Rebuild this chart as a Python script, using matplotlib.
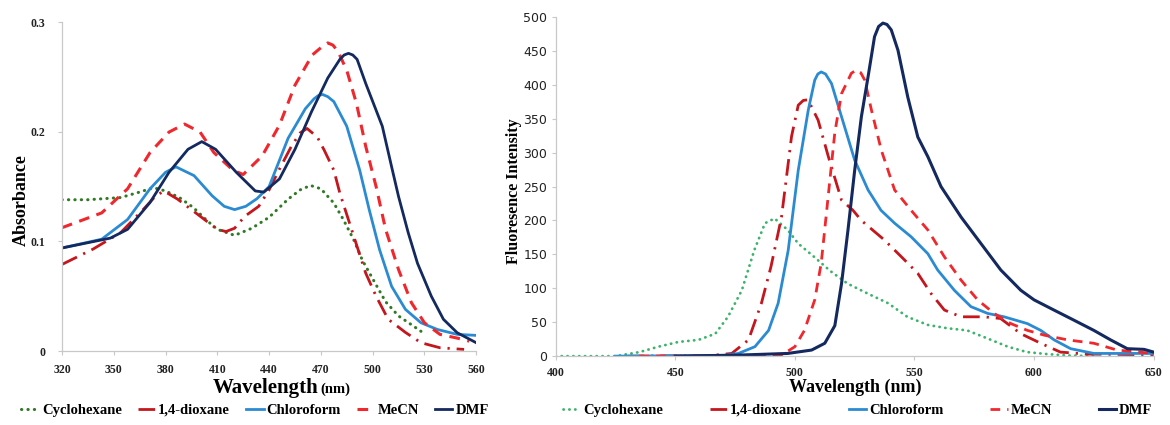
"""
Absorption (left) and fluorescence (right) spectra in five solvents.
"""

import numpy as np
import matplotlib
matplotlib.use('Agg')
import matplotlib.pyplot as plt
from matplotlib.lines import Line2D

# ============================================================
#  DATA - absorption spectra (left panel)
# ============================================================
abs_cyc_wl = [320, 335, 354, 365, 373, 380, 388, 396, 404, 410, 420, 430, 440, 451, 458,
              464, 470, 477.5, 483, 489, 494, 500, 507.5, 515, 522.5, 528]
abs_cyc = [0.138, 0.138, 0.140, 0.145, 0.149, 0.146, 0.140, 0.131, 0.119, 0.111, 0.1055,
           0.112, 0.122, 0.1385, 0.147, 0.151, 0.148, 0.135, 0.120, 0.1016, 0.083, 0.066,
           0.045, 0.032, 0.024, 0.018]

abs_diox_wl = [320, 338, 354, 367, 374, 379, 387, 400, 410, 415, 420, 426, 434, 440, 446,
               453, 458, 462, 468, 472, 477.5, 481, 489, 496, 502, 509, 519, 528, 539, 553]
abs_diox = [0.079, 0.093, 0.108, 0.129, 0.141, 0.146, 0.1385, 0.123, 0.111, 0.109, 0.112,
            0.123, 0.132, 0.147, 0.166, 0.187, 0.199, 0.203, 0.195, 0.183, 0.165, 0.144,
            0.105, 0.071, 0.050, 0.029, 0.017, 0.0076, 0.003, 0.0015]

abs_chl_wl = [320, 343, 358, 371, 380, 386, 396.5, 407, 414, 420, 426.5, 433, 440, 451,
              461, 466, 468.5, 471, 474, 477.5, 485, 492.5, 498, 504, 511, 519, 528, 537.5,
              549, 560]
abs_chl = [0.094, 0.102, 0.120, 0.148, 0.163, 0.168, 0.160, 0.1416, 0.132, 0.129, 0.132,
           0.139, 0.150, 0.194, 0.221, 0.230, 0.233, 0.234, 0.232, 0.2275, 0.205, 0.165,
           0.129, 0.0925, 0.059, 0.038, 0.0258, 0.0197, 0.0152, 0.0143]

abs_mecn_wl = [320, 343, 358, 371, 382, 391, 400, 408, 419, 425, 436, 446, 455, 465, 471,
               474, 477, 480, 485, 490.6, 496, 502, 507.5, 515, 522.5, 530, 539, 552.5, 556]
abs_mecn = [0.1125, 0.126, 0.148, 0.181, 0.1997, 0.207, 0.1997, 0.181, 0.165, 0.161, 0.178,
            0.206, 0.2425, 0.270, 0.278, 0.281, 0.279, 0.273, 0.256, 0.226, 0.1866, 0.150,
            0.111, 0.0743, 0.044, 0.0258, 0.0152, 0.0106, 0.009]

abs_dmf_wl = [320, 348, 358, 371, 382, 393, 401, 409, 421, 432, 437, 446, 455, 464.5, 474,
              481, 483.5, 486, 488.5, 491, 496, 505.6, 511, 515, 520.6, 526, 534, 541, 549,
              560]
abs_dmf = [0.094, 0.103, 0.111, 0.1355, 0.163, 0.184, 0.191, 0.184, 0.163, 0.146, 0.145,
           0.157, 0.184, 0.218, 0.249, 0.266, 0.270, 0.2715, 0.270, 0.266, 0.244, 0.205,
           0.168, 0.141, 0.108, 0.080, 0.050, 0.029, 0.0167, 0.0076]

# ============================================================
#  DATA - fluorescence spectra (right panel)
# ============================================================
fl_cyc_wl = [400, 425, 435, 443, 451.4, 459.7, 466.7, 472, 477.8, 483, 487.5, 491.5, 497,
             501.4, 508, 515, 522, 530.6, 539, 547, 555.6, 564, 572, 580.6, 589, 597, 605.6,
             614, 625]
fl_cyc = [0, 0, 6, 14, 21, 24, 33, 58, 97, 156, 196, 203, 186, 166, 146.5, 125, 107, 92, 78,
          58, 46, 41, 38, 26, 14, 6, 3, 1, 0]

fl_diox_wl = [430, 465, 473.6, 480.6, 486, 490, 494.4, 498.6, 501.4, 503.5, 505.5, 509.7,
              514, 519.5, 524.3, 527.8, 537.5, 545.8, 551.4, 557, 562.5, 569.5, 579, 586,
              594.5, 602.8, 611, 622, 650]
fl_diox = [0, 1, 4, 24, 78, 132, 205, 324, 370, 377, 378, 348, 294, 230, 215, 200, 171, 142,
           122, 92, 68, 58, 58, 55.5, 33, 19, 6, 3, 2]

fl_chl_wl = [425, 470, 476.4, 483.3, 489, 493, 497.2, 501.4, 505.6, 508.3, 509.6, 511, 512.8,
             515.3, 519.5, 525, 530.6, 536, 541.7, 548.6, 555.6, 559.7, 566.7, 573.6, 580.6,
             587.5, 597.2, 602.8, 608.4, 615.3, 625, 650]
fl_chl = [0, 1, 4, 14, 38, 78, 156, 274, 363, 407, 416, 419, 416, 402, 353, 289, 245, 215,
          196, 176, 151, 127, 97, 73, 63, 58, 48, 38, 24, 11, 4, 4]

fl_mecn_wl = [435, 490, 494.4, 500, 504, 508.3, 511, 513.9, 516.7, 519.5, 523.6, 525.7,
              527.5, 529.2, 532, 536.1, 541.7, 548.6, 555.6, 562.5, 569.5, 576.4, 583.3,
              590.3, 597.2, 604.2, 614, 625, 634.7, 650]
fl_mecn = [0, 0.5, 1.5, 14, 38, 83, 137, 235, 330, 387, 417, 422, 418, 407, 363, 304, 245,
           215, 186, 146.5, 112, 83, 63, 48, 38, 31, 24, 19, 9, 4]

fl_dmf_wl = [450, 476, 497, 507, 512.5, 516.7, 519.5, 522.2, 525, 527.8, 530.6, 533.3, 535,
             536.8, 538.5, 540.3, 543.1, 547.2, 551.4, 555.6, 561.1, 569.5, 577.8, 586.1,
             594.5, 600, 608.3, 616.7, 625, 632, 639, 646, 650]
fl_dmf = [0, 1.5, 4, 9, 19, 45, 107, 186, 274, 353, 412, 471, 486, 491, 489, 481, 451, 382,
          323, 294, 250, 205, 166, 127, 97, 83, 68, 53, 38, 24, 11, 10, 6]

solvents = ['Cyclohexane', '1,4-dioxane', 'Chloroform', 'MeCN', 'DMF']
abs_ticks_x = [320, 350, 380, 410, 440, 470, 500, 530, 560]
abs_ticks_y = [0, 0.1, 0.2, 0.3]
abs_tick_labels_y = ['0', '0.1', '0.2', '0.3']
fl_ticks_x = [400, 450, 500, 550, 600, 650]
fl_ticks_y = [0, 50, 100, 150, 200, 250, 300, 350, 400, 450, 500]

# ============================================================
#  STYLES
# ============================================================
SERIF = 'Liberation Serif'
NARROW = ['Liberation Sans Narrow', 'DejaVu Sans']

C_DIOX = '#c4161c'
C_CHL = '#2a8bd3'
C_MECN = '#f0282d'
C_DMF = '#13295f'

dot = (0, (0.1, 2.0))
dashdot = (0, (6, 2.5, 0.8, 2.5))
dash = (0, (3.5, 2.5))

left_styles = [
    dict(color='#2f7a24', ls=dot, lw=2.2, dash_capstyle='round'),
    dict(color=C_DIOX, ls=dashdot, lw=2.0),
    dict(color=C_CHL, ls='-', lw=2.0),
    dict(color=C_MECN, ls=dash, lw=2.2),
    dict(color=C_DMF, ls='-', lw=2.0),
]
right_styles = [
    dict(color='#3cb36a', ls=dot, lw=2.0, dash_capstyle='round'),
    dict(color=C_DIOX, ls=dashdot, lw=2.0),
    dict(color=C_CHL, ls='-', lw=2.0),
    dict(color=C_MECN, ls=dash, lw=2.0),
    dict(color=C_DMF, ls='-', lw=2.2),
]

fig = plt.figure(figsize=(11.7, 4.25), dpi=100)
ax1 = fig.add_axes([0.053, 0.174, 0.354, 0.774])
ax2 = fig.add_axes([0.475, 0.162, 0.511, 0.798])

# ---- Left: absorbance ----
abs_sets = [(abs_cyc_wl, abs_cyc), (abs_diox_wl, abs_diox), (abs_chl_wl, abs_chl),
            (abs_mecn_wl, abs_mecn), (abs_dmf_wl, abs_dmf)]
for (wl, val), st, name in zip(abs_sets, left_styles, solvents):
    ax1.plot(wl, val, label=name, **st)

ax1.set_xlim(320, 560)
ax1.set_ylim(0, 0.3)
ax1.set_xticks(abs_ticks_x)
ax1.set_yticks(abs_ticks_y)
ax1.set_yticklabels(abs_tick_labels_y)

# ---- Right: fluorescence ----
fl_sets = [(fl_cyc_wl, fl_cyc), (fl_diox_wl, fl_diox), (fl_chl_wl, fl_chl),
           (fl_mecn_wl, fl_mecn), (fl_dmf_wl, fl_dmf)]
for (wl, val), st, name in zip(fl_sets, right_styles, solvents):
    ax2.plot(wl, val, label=name, **st)

ax2.set_xlim(400, 650)
ax2.set_ylim(0, 500)
ax2.set_xticks(fl_ticks_x)
ax2.set_yticks(fl_ticks_y)

for ax in (ax1, ax2):
    for side in ('top', 'right'):
        ax.spines[side].set_visible(False)
    for side in ('left', 'bottom'):
        ax.spines[side].set_color('#c8c8c8')
        ax.spines[side].set_linewidth(0.9)
    ax.tick_params(axis='both', direction='out', length=3, width=0.8, color='#c8c8c8')

for lab in ax1.get_xticklabels() + ax1.get_yticklabels() + ax2.get_xticklabels():
    lab.set_fontfamily(SERIF)
    lab.set_fontweight('bold')
    lab.set_fontsize(8.5)
    lab.set_color('#222222')
for lab in ax2.get_yticklabels():
    lab.set_fontfamily(NARROW)
    lab.set_fontsize(9)
    lab.set_color('#222222')
ax1.tick_params(axis='x', pad=6)
ax1.tick_params(axis='y', pad=9)
ax2.tick_params(axis='x', pad=5)
ax2.tick_params(axis='y', pad=3)

# axis titles
fig.text(0.018, 0.53, 'Absorbance', fontfamily=SERIF, fontweight='bold', fontsize=13,
         rotation=90, ha='center', va='center')
fig.text(0.272, 0.088, 'Wavelength', fontfamily=SERIF, fontweight='bold', fontsize=15,
         ha='right', va='center')
fig.text(0.274, 0.083, '(nm)', fontfamily=SERIF, fontweight='bold', fontsize=10.5,
         ha='left', va='center')
fig.text(0.439, 0.55, 'Fluoresence Intensity', fontfamily=SERIF, fontweight='bold',
         fontsize=11.5, rotation=90, ha='center', va='center')
fig.text(0.731, 0.088, 'Wavelength (nm)', fontfamily=SERIF, fontweight='bold', fontsize=13,
         ha='center', va='center')

# ---- Legends ----
def legend_handles(styles):
    hs = []
    for st in styles:
        hs.append(Line2D([], [], **st))
    return hs

leg1 = fig.legend(legend_handles(left_styles), solvents, loc='center',
                  bbox_to_anchor=(0.218, 0.035), ncol=5, frameon=False,
                  prop=dict(family=SERIF, weight='bold', size=10.5),
                  handlelength=1.2, handletextpad=0.2, columnspacing=1.1)
leg2 = fig.legend(legend_handles(right_styles), solvents, loc='center',
                  bbox_to_anchor=(0.733, 0.035), ncol=5, frameon=False,
                  prop=dict(family=SERIF, weight='bold', size=10.5),
                  handlelength=1.2, handletextpad=0.2, columnspacing=3.2)

fig.savefig('out.png', dpi=100)
